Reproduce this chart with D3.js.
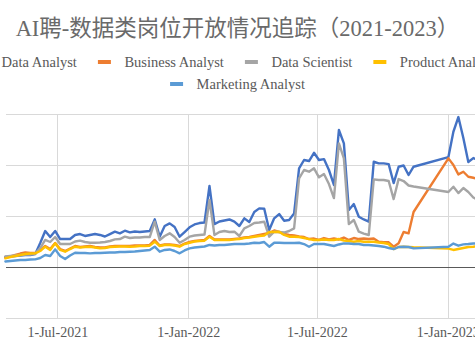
<!DOCTYPE html>
<html>
<head>
<meta charset="utf-8">
<script src="https://cdn.jsdelivr.net/npm/d3@7"></script>
<style>
  html, body { margin: 0; padding: 0; background: #ffffff; overflow: hidden; }
  svg { display: block; }
</style>
</head>
<body>
<svg id="chart" width="475" height="356"></svg>
<script>
const titleText = "AI聘-数据类岗位开放情况追踪（2021-2023）";
const seriesNames = ["Data Analyst", "Business Analyst", "Data Scientist", "Product Analyst", "Marketing Analyst"];
const seriesColors = ["#4472C4", "#ED7D31", "#A5A5A5", "#FFC000", "#5B9BD5"];

const dates = [
  "2021-04-19","2021-04-26","2021-05-03","2021-05-10","2021-05-17","2021-05-24","2021-05-31","2021-06-07","2021-06-14","2021-06-21",
  "2021-06-28","2021-07-05","2021-07-12","2021-07-19","2021-07-26","2021-08-02","2021-08-09","2021-08-16","2021-08-23","2021-08-30",
  "2021-09-06","2021-09-13","2021-09-20","2021-09-27","2021-10-04","2021-10-11","2021-10-18","2021-10-25","2021-11-01","2021-11-08",
  "2021-11-15","2021-11-22","2021-11-29","2021-12-06","2021-12-13","2021-12-20","2021-12-27","2022-01-03","2022-01-10","2022-01-17",
  "2022-01-24","2022-01-31","2022-02-07","2022-02-14","2022-02-21","2022-02-28","2022-03-07","2022-03-14","2022-03-21","2022-03-28",
  "2022-04-04","2022-04-11","2022-04-18","2022-04-25","2022-05-02","2022-05-09","2022-05-16","2022-05-23","2022-05-30","2022-06-06",
  "2022-06-13","2022-06-20","2022-06-27","2022-07-04","2022-07-11","2022-07-18","2022-07-25","2022-08-01","2022-08-08","2022-08-15",
  "2022-08-22","2022-08-29","2022-09-05","2022-09-12","2022-09-19","2022-09-26","2022-10-03","2022-10-10","2022-10-17","2022-10-24",
  "2022-10-31","2022-11-07","2022-11-14","2023-01-02","2023-01-09","2023-01-16","2023-01-23","2023-01-30","2023-02-06","2023-02-13"
];

const dataAnalyst = [
  9.8,10.3,10.8,11.3,11.8,11.8,12.7,23.5,35.3,29.4,
  35.3,27.4,27.4,27.4,31.4,32.3,30.4,31.4,32.3,31.4,
  29.9,32.3,34.6,33.0,35.6,34.0,34.8,34.3,34.8,35.3,
  46.7,29.7,40.2,42.8,39.2,29.7,34.3,38.9,41.7,43.1,
  43.6,79.4,42.1,44.6,45.6,46.6,44.4,40.2,47.7,44.1,
  53.9,57.5,57.1,36.3,47.7,51.9,45.4,46.1,52.6,96.7,
  104.9,103.9,112.0,104.9,105.8,95.1,80.4,134.3,121.2,55.9,
  61.7,49.3,46.6,44.4,103.2,101.6,101.6,100.9,82.3,98.3,
  99.5,90.2,98.3,107.8,132.6,147.0,126.4,102.9,106.8,104.9
];
const businessAnalyst = [
  9.3,10.3,11.8,13.2,14.2,13.7,13.7,16.7,20.6,17.6,
  23.5,17.6,15.7,18.1,20.6,19.6,20.1,20.6,19.6,19.1,
  19.1,20.1,20.6,20.6,20.6,20.6,21.1,21.1,21.1,21.6,
  26.5,21.1,22.1,22.1,21.6,20.6,23.0,24.5,25.5,26.0,
  26.5,30.4,27.0,27.0,27.0,27.0,27.4,27.9,28.9,29.4,
  30.4,31.4,32.3,33.3,35.8,34.3,32.3,31.4,30.9,29.9,
  29.4,27.4,27.9,26.5,28.4,27.0,27.9,27.0,28.9,26.5,
  28.4,27.4,27.9,27.4,27.9,24.8,24.2,24.2,19.9,23.2,
  34.3,33.0,53.9,106.5,100.0,90.8,93.4,88.5,87.5,86.2
];
const dataScientist = [
  10.3,10.8,11.3,11.8,12.3,12.3,13.2,18.6,26.5,24.5,
  29.4,22.5,22.5,22.5,25.0,25.8,24.5,23.8,23.8,24.0,
  24.5,25.5,27.1,27.4,29.7,28.4,28.9,28.9,29.4,29.4,
  44.4,26.5,30.4,33.0,29.4,23.8,26.5,29.7,30.9,31.4,
  31.9,65.7,31.4,34.3,35.3,34.3,34.6,30.4,37.9,40.2,
  43.1,43.6,44.4,29.7,34.6,34.3,33.8,35.3,37.9,86.9,
  95.1,93.4,96.7,87.9,91.1,81.3,67.6,121.2,106.5,42.1,
  46.1,34.6,32.8,31.4,85.9,85.3,85.3,84.3,66.6,86.2,
  84.3,79.9,78.9,73.5,78.7,72.5,77.4,73.5,68.1,65.7
];
const productAnalyst = [
  8.5,9.8,10.8,11.8,12.7,13.2,13.4,15.7,19.9,16.7,
  23.2,16.7,15.0,17.6,19.9,19.1,19.6,19.9,19.1,18.3,
  18.6,19.6,19.9,20.1,20.1,19.9,20.1,20.6,20.6,20.9,
  24.8,20.6,21.6,21.6,21.1,19.9,22.5,23.8,25.0,25.5,
  25.8,29.7,26.5,26.5,26.5,26.5,27.1,27.4,28.4,28.9,
  29.7,30.4,30.9,34.3,34.3,34.6,31.4,29.7,29.7,29.4,
  28.4,27.4,26.5,26.5,27.0,26.5,26.5,27.4,26.0,25.5,
  24.8,25.5,24.8,24.8,24.8,24.0,23.5,22.5,17.6,19.6,
  19.9,19.6,19.3,18.1,16.7,17.6,18.6,19.6,19.9,20.6
];
const marketingAnalyst = [
  5.4,5.9,6.4,6.9,6.9,7.4,7.5,8.8,11.8,10.8,
  17.3,10.8,7.8,11.3,14.0,13.7,13.7,13.4,13.7,13.7,
  14.0,14.2,14.2,14.7,14.7,15.0,15.2,15.7,16.2,16.7,
  19.9,15.0,16.7,17.2,15.7,13.4,16.2,18.3,19.1,19.6,
  20.1,21.6,21.1,21.6,21.6,22.1,22.5,22.5,22.5,23.0,
  23.8,23.5,24.5,19.9,23.8,23.8,23.5,23.5,23.5,23.8,
  22.5,19.9,22.5,22.5,22.5,21.6,20.6,22.1,23.2,23.0,
  22.5,22.5,21.6,21.6,21.1,20.6,19.9,18.6,17.6,19.6,
  19.9,19.6,18.3,19.9,23.0,20.9,22.2,22.5,23.0,23.0
];
const seriesValues = [dataAnalyst, businessAnalyst, dataScientist, productAnalyst, marketingAnalyst];

const yTicks = [-50, 0, 50, 100, 150];
const xTickDates = ["2021-07-01", "2022-01-01", "2022-07-01", "2023-01-01", "2023-07-01"];

const parse = d3.timeParse("%Y-%m-%d");
const fmt = d3.timeFormat("%-d-%b-%Y");

const svg = d3.select("#chart");
const plot = { left: 6, right: 700, top: 114, bottom: 318 };

const x = d3.scaleTime()
  .domain([parse("2021-07-01"), parse("2023-01-01")])
  .range([57.3, 447.7]);
const y = d3.scaleLinear().domain([-50, 150]).range([plot.bottom, plot.top]);

const textColor = "#595959";
const latinFont = "'Liberation Serif', 'Times New Roman', 'Noto Sans CJK SC', serif";

// title
svg.append("text")
  .attr("x", 237.5).attr("y", 36)
  .attr("text-anchor", "middle")
  .attr("font-family", latinFont)
  .attr("font-size", 22.5)
  .attr("fill", "#6a6a6a")
  .text(titleText);

// horizontal gridlines
const gridG = svg.append("g");
gridG.selectAll("line.h").data(yTicks.filter(v => v !== 0)).join("line")
  .attr("x1", plot.left).attr("x2", plot.right)
  .attr("y1", d => Math.round(y(d)) + 0.5).attr("y2", d => Math.round(y(d)) + 0.5)
  .attr("stroke", "#D9D9D9").attr("stroke-width", 1);

// vertical gridlines
gridG.selectAll("line.v").data(xTickDates.map(parse)).join("line")
  .attr("x1", d => Math.round(x(d)) + 0.5).attr("x2", d => Math.round(x(d)) + 0.5)
  .attr("y1", plot.top).attr("y2", plot.bottom)
  .attr("stroke", "#D9D9D9").attr("stroke-width", 1);

// x axis labels (no tick marks)
const xAxis = d3.axisBottom(x)
  .tickValues(xTickDates.map(parse))
  .tickFormat(fmt)
  .tickSize(0)
  .tickPadding(9);
const xg = svg.append("g").attr("transform", `translate(0,${plot.bottom})`).call(xAxis);
xg.select(".domain").remove();
xg.selectAll("text")
  .attr("font-family", latinFont)
  .attr("font-size", 14)
  .attr("fill", textColor);

// zero line
svg.append("line")
  .attr("x1", plot.left).attr("x2", plot.right)
  .attr("y1", Math.round(y(0)) + 0.5).attr("y2", Math.round(y(0)) + 0.5)
  .attr("stroke", "#595959").attr("stroke-width", 1.2);

// series lines
const line = d3.line()
  .x(d => x(d.date))
  .y(d => y(d.value));

seriesNames.forEach((name, i) => {
  const pts = dates.map((d, j) => ({ date: parse(d), value: seriesValues[i][j] }));
  svg.append("path")
    .datum(pts)
    .attr("fill", "none")
    .attr("stroke", seriesColors[i])
    .attr("stroke-width", 2.4)
    .attr("stroke-linejoin", "round")
    .attr("stroke-linecap", "round")
    .attr("d", line);
});

// legend
const legendFont = 14.5;
const markerW = 13, markerGap = 13.5, itemGap = 21;
const legendRows = [[0, 1, 2, 3], [4]];
const rowY = [62, 84];
const rowCenter = [234, 237.5];
legendRows.forEach((row, r) => {
  const g = svg.append("g");
  const items = row.map(i => {
    const t = g.append("text")
      .attr("font-family", latinFont)
      .attr("font-size", legendFont)
      .attr("fill", textColor)
      .attr("dominant-baseline", "central")
      .attr("y", rowY[r])
      .text(seriesNames[i]);
    return { i, t, w: t.node().getComputedTextLength() };
  });
  const total = items.reduce((s, it) => s + markerW + markerGap + it.w, 0) + itemGap * (items.length - 1);
  let cx = rowCenter[r] - total / 2;
  items.forEach(it => {
    g.append("line")
      .attr("x1", cx).attr("x2", cx + markerW)
      .attr("y1", rowY[r]).attr("y2", rowY[r])
      .attr("stroke", seriesColors[it.i]).attr("stroke-width", 4);
    it.t.attr("x", cx + markerW + markerGap);
    cx += markerW + markerGap + it.w + itemGap;
  });
});
</script>
</body>
</html>
